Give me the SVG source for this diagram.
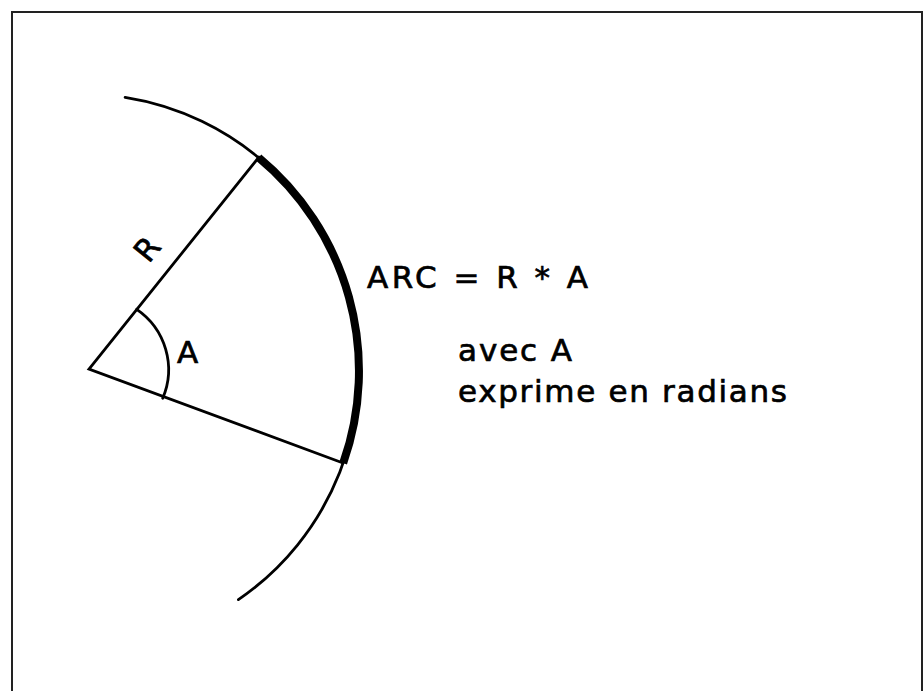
<svg xmlns="http://www.w3.org/2000/svg" width="924" height="691" viewBox="0 0 924 691">
<style>
.ln{fill:none;stroke:#000;stroke-width:2.8;stroke-linecap:round}
.thick{fill:none;stroke:#000;stroke-width:8;stroke-linecap:butt}
.t{font-family:"DejaVu Sans","Liberation Sans",sans-serif;font-size:31px;fill:#000;stroke:#000;stroke-width:0.7}
</style>
<rect width="924" height="691" fill="#fff"/>
<path d="M12,700 V12 H922 V700" fill="none" stroke="#222" stroke-width="2"/>
<g id="figure">
<path class="ln" d="M125.1,97.4 A277,277 0 0 1 238.4,599.6"/>
<path class="thick" d="M258.7,157.7 A277,277 0 0 1 343.2,463.1"/>
<path class="ln" d="M259,157 L89,369 L343,463"/>
<path class="ln" d="M136.7,309.3 A73,73 0 0 1 162.7,398.3"/>
</g>
<g id="labels">
<text class="t" transform="translate(147,249) rotate(-51)" text-anchor="middle" y="11">R</text>
<text class="t" x="177" y="363">A</text>
<text class="t" x="367" y="288" textLength="221" lengthAdjust="spacing">ARC = R * A</text>
<text class="t" x="458" y="361" textLength="114" lengthAdjust="spacing">avec A</text>
<text class="t" x="458" y="402" textLength="329" lengthAdjust="spacing">exprime en radians</text>
</g>
</svg>
